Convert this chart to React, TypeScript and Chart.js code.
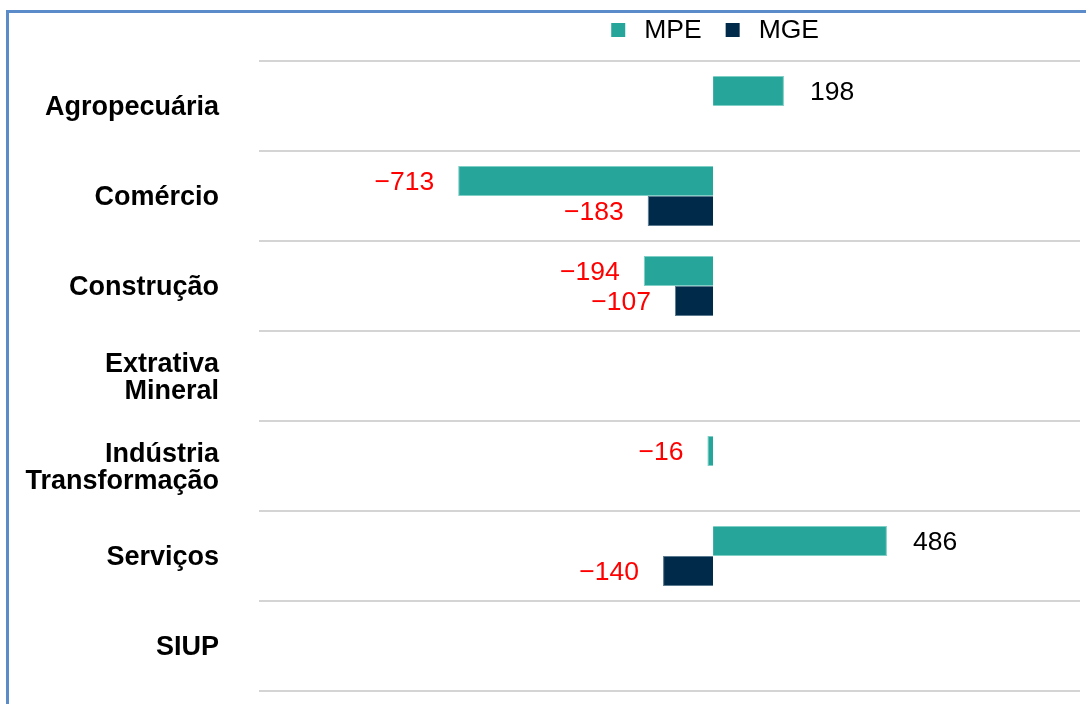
import React, { useEffect, useRef } from "react";
import { Chart, registerables } from "chart.js";

Chart.register(...registerables);

const categories: (string | string[])[] = [
  "Agropecuária",
  "Comércio",
  "Construção",
  ["Extrativa", "Mineral"],
  ["Indústria", "Transformação"],
  "Serviços",
  "SIUP",
];
const mpeValues: (number | null)[] = [198, -713, -194, null, -16, 486, null];
const mgeValues: (number | null)[] = [null, -183, -107, null, null, -140, null];
const seriesNames = ["MPE", "MGE"];
const seriesColors = ["#26A69A", "#002A4A"];

const FONT = "'Liberation Sans', Arial, Helvetica, sans-serif";

const valueLabelPlugin = {
  id: "valueLabels",
  afterDatasetsDraw(chart: any) {
    const ctx = chart.ctx;
    ctx.save();
    ctx.font = `26.5px ${FONT}`;
    ctx.textBaseline = "middle";
    chart.data.datasets.forEach((ds: any, di: number) => {
      const meta = chart.getDatasetMeta(di);
      meta.data.forEach((el: any, i: number) => {
        const v = ds.data[i];
        if (v === null || v === undefined) return;
        const neg = v < 0;
        ctx.fillStyle = neg ? "#FF0000" : "#000000";
        ctx.textAlign = neg ? "right" : "left";
        const txt = neg ? "\u2212" + Math.abs(v) : String(v);
        const x = neg ? el.x - 24 : el.x + 26;
        ctx.fillText(txt, x, el.y + 1.5);
      });
    });
    ctx.restore();
  },
};

const legendPlugin = {
  id: "customLegend",
  afterDraw(chart: any) {
    const ctx = chart.ctx;
    ctx.save();
    ctx.font = `26.5px ${FONT}`;
    ctx.textBaseline = "middle";
    ctx.textAlign = "left";
    const box = 14;
    const gapBoxText = 19;
    const gapItems = 24;
    const items = chart.data.datasets.map((ds: any) => ({
      label: ds.label,
      color: ds.backgroundColor,
      w: ctx.measureText(ds.label).width,
    }));
    let total = 0;
    items.forEach((it: any, i: number) => {
      total += box + gapBoxText + it.w + (i < items.length - 1 ? gapItems : 0);
    });
    const cx = chart.scales.x.getPixelForValue(0) + 2;
    let x = cx - total / 2;
    const y = 30;
    items.forEach((it: any) => {
      ctx.fillStyle = it.color;
      ctx.fillRect(x, y - box / 2, box, box);
      x += box + gapBoxText;
      ctx.fillStyle = "#000000";
      ctx.fillText(it.label, x, y + 1);
      x += it.w + gapItems;
    });
    ctx.restore();
  },
};

export default function App() {
  const ref = useRef<HTMLCanvasElement | null>(null);

  useEffect(() => {
    document.body.style.margin = "0";
    if (!ref.current) return;
    const chart = new Chart(ref.current, {
      type: "bar",
      data: {
        labels: categories,
        datasets: [
          {
            label: seriesNames[0],
            data: mpeValues,
            backgroundColor: seriesColors[0],
            borderColor: "#7fcfc6",
            borderWidth: 1,
            categoryPercentage: 0.667,
            barPercentage: 1,
          },
          {
            label: seriesNames[1],
            data: mgeValues,
            backgroundColor: seriesColors[1],
            borderColor: "#5a7a90",
            borderWidth: 1,
            categoryPercentage: 0.667,
            barPercentage: 1,
          },
        ],
      },
      options: {
        indexAxis: "y",
        animation: false,
        responsive: false,
        maintainAspectRatio: false,
        layout: { padding: { left: 0, right: 6, top: 61, bottom: 13 } },
        plugins: {
          legend: { display: false },
          tooltip: { enabled: false },
          title: { display: false },
        },
        scales: {
          x: {
            display: false,
            min: -1270,
            max: 1026,
          },
          y: {
            position: "left",
            border: { display: false },
            grid: {
              display: true,
              offset: true,
              color: "#d4d4d4",
              lineWidth: 2,
              drawTicks: false,
            },
            ticks: {
              color: "#000000",
              padding: 40,
              labelOffset: 2,
              font: { family: FONT, size: 27, weight: "bold", lineHeight: 1.03 },
            },
            afterFit(scale: any) {
              scale.width = 259;
              scale.paddingTop = 0;
              scale.paddingBottom = 0;
            },
          },
        },
      },
      plugins: [valueLabelPlugin, legendPlugin],
    } as any);
    return () => chart.destroy();
  }, []);

  return (
    <div
      style={{
        position: "fixed",
        left: 0,
        top: 0,
        width: 1086,
        height: 704,
        overflow: "hidden",
        background: "#ffffff",
      }}
    >
      <div
        style={{
          position: "absolute",
          left: 6,
          top: 10,
          width: 1200,
          height: 800,
          borderTop: "3px solid #5b8bc9",
          borderLeft: "3px solid #5b8bc9",
          boxSizing: "border-box",
        }}
      />
      <canvas
        ref={ref}
        width={1086}
        height={704}
        style={{ position: "absolute", left: 0, top: 0, width: 1086, height: 704 }}
      />
    </div>
  );
}
